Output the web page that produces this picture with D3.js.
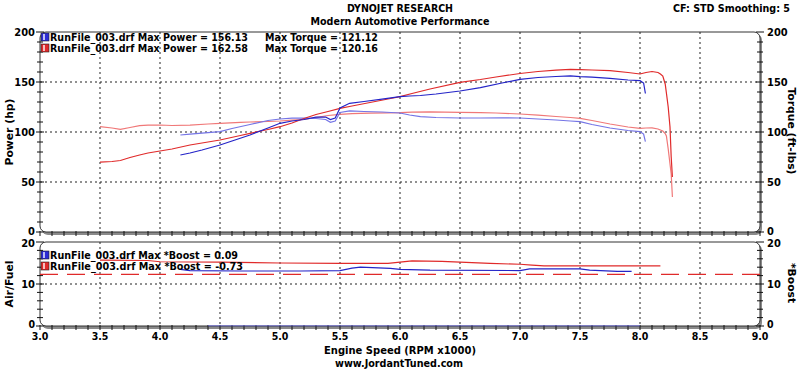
<!DOCTYPE html>
<html>
<head>
<meta charset="utf-8">
<script src="https://cdn.jsdelivr.net/npm/d3@7"></script>
<style>
  body { margin: 0; background: #fff; }
  text { font-family: "DejaVu Sans Condensed", "DejaVu Sans", sans-serif; font-weight: bold; font-stretch: condensed; fill: #000; }
</style>
</head>
<body>
<div id="chart"></div>
<script>
// ---- data ----
const rpmRed = [3.5, 3.6, 3.67, 3.75, 3.83, 3.9, 4.0, 4.1, 4.25, 4.4, 4.5, 4.67, 4.75, 4.9, 5.0, 5.1, 5.2, 5.3, 5.4, 5.5, 5.6, 5.75, 5.9, 6.0, 6.1, 6.25, 6.5, 6.67, 6.8, 7.0, 7.15, 7.3, 7.42, 7.5, 7.6, 7.75, 7.9, 8.0, 8.05, 8.1, 8.15, 8.17, 8.19, 8.21, 8.22, 8.235, 8.25, 8.26, 8.27];
const powerRed = [69.8, 70.5, 71.5, 74.5, 77, 79, 81, 83, 87, 90, 92, 96.5, 98.7, 102.5, 105.3, 109, 113.5, 117.5, 120.5, 123.7, 126, 129.5, 133, 135.3, 138.5, 143, 149.7, 152.5, 155, 158.5, 160.5, 161.8, 162.6, 162.4, 162, 161.3, 159.5, 158, 159.5, 160.5, 159.5, 158, 156, 148, 139, 125, 105, 75, 55];
const torqueRed = [105.3, 104, 102.7, 104.5, 106.3, 106.8, 107, 106.5, 106.8, 108, 108.7, 109.7, 110, 110.5, 111, 111.8, 112.5, 114.5, 116.5, 117.7, 118.3, 118.8, 119.2, 119.3, 119.8, 120.16, 119.7, 119.4, 119, 118, 116.8, 115.5, 114.5, 113.7, 111.5, 108, 105, 103.7, 104, 104.2, 103, 102, 101, 98.5, 96, 83, 68, 58, 35];

const rpmBlue = [4.17, 4.25, 4.35, 4.5, 4.6, 4.75, 4.9, 5.0, 5.1, 5.2, 5.3, 5.38, 5.42, 5.46, 5.5, 5.58, 5.7, 5.85, 6.0, 6.08, 6.17, 6.3, 6.5, 6.67, 6.85, 7.0, 7.15, 7.3, 7.42, 7.5, 7.6, 7.75, 7.9, 8.0, 8.03, 8.045];
const powerBlue = [77, 79, 82, 87, 91, 97, 104, 108.7, 111, 112.5, 114.8, 115, 112.5, 114, 124, 128.7, 130.5, 132.8, 135.3, 136, 136.5, 138, 141, 144.3, 149, 152.7, 154.5, 155.5, 156.1, 155.3, 154.8, 153.7, 152, 151.3, 149, 138.5];
const torqueBlue = [97, 97.8, 98.8, 100.3, 103.5, 107.5, 111.5, 113, 113.8, 113.8, 113.5, 112.5, 109.7, 111, 119.5, 121.1, 120.5, 120, 119, 117, 115.3, 114.5, 114, 114, 114.2, 114, 113, 112, 111, 110.3, 107.5, 104, 101.5, 100.3, 98, 90.3];

const afrRpmRed = [3.5, 3.9, 4.0, 4.5, 5.0, 5.5, 5.9, 6.0, 6.1, 6.35, 6.5, 6.75, 7.0, 7.1, 7.2, 7.5, 8.17];
const afrRed = [15.7, 15.6, 15.3, 15.2, 15.0, 14.9, 14.9, 15.2, 15.5, 15.4, 15.2, 14.9, 14.7, 14.5, 14.3, 14.3, 14.3];
const afrRpmBlue = [4.17, 4.25, 4.67, 5.17, 5.5, 5.6, 5.67, 5.92, 6.0, 6.25, 7.0, 7.08, 7.5, 7.58, 7.81, 7.93];
const afrBlue = [13.5, 13.2, 13.1, 13.1, 13.2, 13.8, 14.0, 13.7, 13.5, 13.3, 13.2, 13.6, 13.6, 13.3, 13.0, 13.0];
const targetRpm = [3.0, 9.0];
const targetAfr = [12.3, 12.3];
const boostRpmBlue = [4.4, 8.0];
const boostBlue = [0.05, 0.05];

const rpmTicks = [3.0, 3.5, 4.0, 4.5, 5.0, 5.5, 6.0, 6.5, 7.0, 7.5, 8.0, 8.5, 9.0];
const topTicks = [0, 50, 100, 150, 200];
const botTicks = [0, 10, 20];

const legendTop = [
  {a: "RunFile_003.drf Max Power = 156.13", b: "Max Torque = 121.12", c: "#2b2bd6"},
  {a: "RunFile_003.drf Max Power = 162.58", b: "Max Torque = 120.16", c: "#e02a2a"}
];
const legendBot = [
  {a: "RunFile_003.drf Max *Boost = 0.09", c: "#2b2bd6"},
  {a: "RunFile_003.drf Max *Boost = -0.73", c: "#e02a2a"}
];

// ---- canvas ----
const width = 800, height = 370;
const svg = d3.select("#chart").append("svg").attr("width", width).attr("height", height);

const x = d3.scaleLinear().domain([3, 9]).range([40, 760]);
const yTop = d3.scaleLinear().domain([0, 200]).range([232, 32]);
const yBot = d3.scaleLinear().domain([0, 20]).range([326, 242]);

// panel frames with grey drop shadow
function panel(y0, y1) {
  svg.append("rect").attr("x", 42).attr("y", y0 + 2).attr("width", 720).attr("height", y1 - y0 + 1)
    .attr("rx", 6).attr("fill", "#8a8a8a");
  svg.append("rect").attr("x", 40).attr("y", y0).attr("width", 720).attr("height", y1 - y0)
    .attr("rx", 6).attr("fill", "#fff").attr("stroke", "#333").attr("stroke-width", 1);
}
panel(32, 232);
panel(242, 326);

// grid
const gridRpm = rpmTicks.slice(1, -1);
[[yTop, [50, 100, 150]], [yBot, [10]]].forEach(([ys, vals]) => {
  const r = ys.range();
  svg.append("g").selectAll("line").data(gridRpm).join("line")
    .attr("x1", d => x(d)).attr("x2", d => x(d)).attr("y1", r[1]).attr("y2", r[0])
    .attr("stroke", "#222").attr("stroke-dasharray", "2,3");
  svg.append("g").selectAll("line").data(vals).join("line")
    .attr("x1", 40).attr("x2", 760).attr("y1", d => ys(d)).attr("y2", d => ys(d))
    .attr("stroke", "#222").attr("stroke-dasharray", "2,3");
});

// tick marks
function vTicks(ys, step, major) {
  const vals = d3.range(ys.domain()[0], ys.domain()[1] + 0.001, step);
  [40, 760].forEach(px => {
    svg.append("g").selectAll("line").data(vals).join("line")
      .attr("x1", d => px - (d % major === 0 ? 4 : 3)).attr("x2", d => px + (d % major === 0 ? 4 : 3))
      .attr("y1", d => ys(d)).attr("y2", d => ys(d)).attr("stroke", "#111");
  });
}
vTicks(yTop, 10, 50);
vTicks(yBot, 2, 10);
[232, 326].forEach(py => {
  svg.append("g").selectAll("line").data(d3.range(30, 91).map(d => d / 10)).join("line")
    .attr("x1", d => x(d)).attr("x2", d => x(d)).attr("y1", py - 1).attr("y2", py + 4)
    .attr("stroke", "#111");
});

// curves
const line = d3.line().x(d => x(d[0]));
function curve(rpms, vals, ys, color, extra, w) {
  const p = svg.append("path")
    .datum(rpms.map((r, i) => [r, vals[i]]))
    .attr("d", line.y(d => ys(d[1])))
    .attr("fill", "none").attr("stroke", color).attr("stroke-width", w || 1.2);
  if (extra) p.attr("stroke-dasharray", extra);
}
curve(boostRpmBlue, boostBlue, yBot, "#6a6ae0", null, 0.8);
curve(rpmRed, torqueRed, yTop, "#f07878");
curve(rpmBlue, torqueBlue, yTop, "#7474e6");
curve(rpmRed, powerRed, yTop, "#e02a2a");
curve(rpmBlue, powerBlue, yTop, "#2424c8");
curve(targetRpm, targetAfr, yBot, "#e02a2a", "18,9");
curve(afrRpmRed, afrRed, yBot, "#e02a2a");
curve(afrRpmBlue, afrBlue, yBot, "#2424c8");

// text helper; fixed widths follow the reference sheet
function t(txt, px, py, opt) {
  opt = opt || {};
  const el = svg.append("text").attr("font-size", opt.size || 11)
    .attr("text-anchor", opt.anchor || "middle").text(txt);
  if (opt.rot) el.attr("transform", `translate(${px},${py}) rotate(${opt.rot})`);
  else el.attr("x", px).attr("y", py);
  if (opt.w) el.attr("textLength", opt.w).attr("lengthAdjust", "spacingAndGlyphs");
  return el;
}

// legends
function swatch(y, c) {
  svg.append("rect").attr("x", 41).attr("y", y).attr("width", 8).attr("height", 8).attr("fill", c).attr("stroke", "#222").attr("stroke-width", 0.6);
  svg.append("rect").attr("x", 43).attr("y", y + 1).attr("width", 2).attr("height", 6).attr("fill", "#fff").attr("opacity", 0.7);
}
legendTop.forEach((d, i) => {
  swatch(33 + i * 11, d.c);
  t(d.a, 50, 41 + i * 11, {anchor: "start", w: 198, size: 10.5});
  t(d.b, 265, 41 + i * 11, {anchor: "start", w: 113, size: 10.5});
});
legendBot.forEach((d, i) => {
  swatch(251 + i * 11, d.c);
  t(d.a, 50, 259 + i * 11, {anchor: "start", w: i ? 193 : 188, size: 10.5});
});

// tick labels
topTicks.forEach(v => {
  const dy = v === 0 ? 3 : 4;
  t(String(v), 35, yTop(v) + dy, {anchor: "end"});
  t(String(v), 767, yTop(v) + dy, {anchor: "start"});
});
botTicks.forEach(v => {
  const dy = v === 20 ? 5 : v === 0 ? 2 : 4;
  t(String(v), 35, yBot(v) + dy, {anchor: "end", size: v === 0 ? 10.5 : 11});
  t(String(v), 767, yBot(v) + dy, {anchor: "start", size: v === 0 ? 10.5 : 11});
});
rpmTicks.forEach(v => t(v.toFixed(1), x(v), 340, {size: 10.5}));

// titles
t("DYNOJET RESEARCH", 400, 12, {w: 106});
t("Modern Automotive Performance", 400, 25, {w: 179});
t("CF: STD  Smoothing: 5", 790, 12, {anchor: "end", w: 117});
t("Engine Speed (RPM x1000)", 400, 353.5, {w: 152, size: 10.5});
t("www.JordantTuned.com", 399, 367, {w: 128});
t("Power (hp)", 13, 132, {rot: -90, w: 67});
t("Air/Fuel", 13, 284, {rot: -90, w: 47});
t("Torque (ft-lbs)", 788, 131, {rot: 90, w: 87});
t("*Boost", 788, 283, {rot: 90, w: 40});
</script>
</body>
</html>
